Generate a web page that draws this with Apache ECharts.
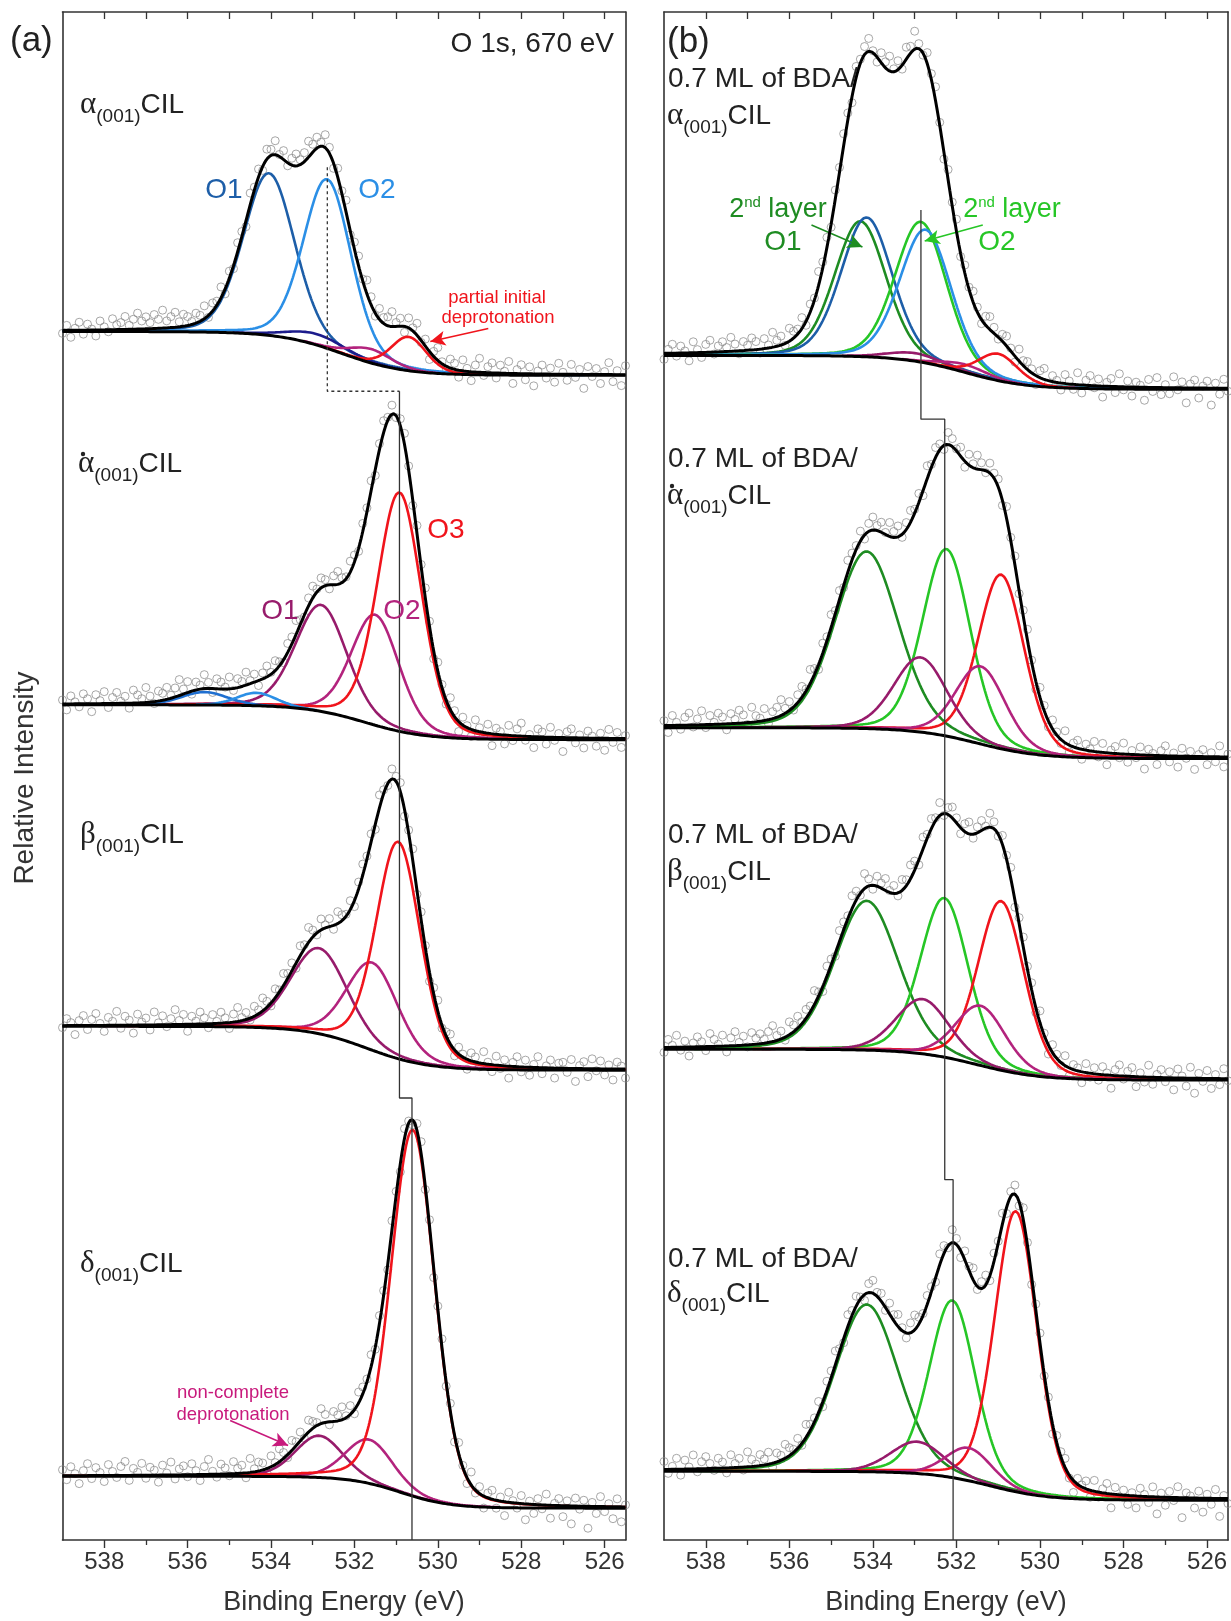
<!DOCTYPE html>
<html><head><meta charset="utf-8">
<script src="https://cdn.jsdelivr.net/npm/echarts@6/dist/echarts.min.js"></script>
<style>html,body{margin:0;padding:0;background:#fff}#chart{width:1231px;height:1621px}</style>
</head><body><div id="chart"></div>
<script>
// ---------------- axis / tick values ----------------
const xLow = 525.5, xHigh = 539;
const majorTicks = [538, 536, 534, 532, 530, 528, 526];
const minorTicks = [537, 535, 533, 531, 529, 527];
const topTicks = [538, 537, 536, 535, 534, 533, 532, 531, 530, 529, 528, 527, 526];
const dataStep = 0.1;   // spacing of the measured points (eV), first point at 539 eV

// Intensity unit: arbitrary (1 unit = 1 px of the stacked plot, 0 = plot bottom)
// background: [level at 539 eV, level at 525.5 eV, step centre (eV), step width (eV)]

// ---------------- panel (a) ----------------
const a1Bg = [1214, 1170, 532.3, 0.75];
const a1Centers = [534.05, 532.65, 532.9, 531.6, 530.7];
const a1Heights = [163, 170, 11, 14, 34];
const a1Fwhm = [1.45, 1.35, 1.6, 1.2, 1.0];
const a1Resid = [-3,5,-7,2,8,-4,6,1, -6,9,3,-2,11,5,7,13, 4,10,16,8,12,6,14,9, 18,7,11,15,5,12,9,3,
 10,6,13,-2,8,4,11,-5, 7,-3,9,5,-6,12,3,8, -4,10,6,14,2,9,-3,7, 12,5,9,16,8,11,4,13,
 6,-5,9,3,12,-4,7,10, 2,14,8,-3,11,6,9,15, 4,8,-6,10,3,12,-2,7, -8,5,13,2,-4,9,6,-7,
 11,3,-9,7,14,-3,6,10, -5,8,2,12,-10,4,9,-6, 7,-12,3,9,-4,6,-8,11, 2,-6,10,-3,5,-14,8,-2,
 6,-9,3,12,-7,4,-11,9];
const a2Bg = [839, 804, 531.75, 0.72];
const a2Centers = [532.8, 531.5, 530.92, 535.6, 534.35];
const a2Heights = [107, 111, 240, 13, 13];
const a2Fwhm = [1.45, 1.35, 1.25, 1.3, 1.1];
const a2Resid = [4,-6,8,2,-3,10,5,-8, 9,3,12,-4,6,11,2,7, -5,13,8,4,15,6,-2,10, 7,12,3,9,16,5,11,-3,
 8,4,14,6,-4,10,7,2, 12,-2,9,5,13,3,8,-5, 6,11,2,10,4,-3,9,7, 14,5,-2,8,12,3,10,6,
 -4,9,13,5,2,11,7,-3, 8,4,10,-6,6,12,3,9, -2,7,11,4,-5,8,2,10, 5,-8,9,3,-4,12,6,-10,
 8,2,-7,11,4,-3,9,-12, 6,3,-9,10,-5,7,13,-4, 2,-11,8,5,-7,10,-3,4, -14,6,9,-5,3,-10,7,2,
 -8,5,-12,9,-4,6,-9,3];
const a3Bg = [516, 472, 531.7, 0.72];
const a3Centers = [532.85, 531.57, 530.95];
const a3Heights = [86, 88, 218];
const a3Fwhm = [1.6, 1.45, 1.25];
const a3Resid = [-2,7,3,-9,5,10,-4,6, 12,2,-6,8,4,14,-3,9, 5,-8,11,3,7,-5,13,2, 9,-2,6,15,4,10,-7,8,
 3,12,6,-4,9,2,11,5, -6,8,14,3,7,-2,10,4, 13,6,-3,9,2,12,5,8, -5,10,4,15,7,-2,11,3,
 8,-4,12,6,2,9,-6,7, 11,3,8,-5,13,4,-2,10, 5,9,-7,3,12,-4,8,2, -9,6,11,-3,4,10,-6,7,
 3,-10,8,5,-4,12,2,-7, 9,-3,6,-12,4,10,-5,7, -8,3,11,-6,2,8,-10,5, 6,-4,9,-13,3,7,-8,10,
 -2,8,-6,4,-11,7,3,-9];
const a4Bg = [64, 32, 530.9, 0.6];
const a4Centers = [532.85, 531.65, 530.6];
const a4Heights = [42, 44, 368];
const a4Fwhm = [1.35, 1.35, 1.24];
const a4Resid = [6,-4,9,2,-8,5,12,-3, 8,3,-6,11,4,-2,9,14, -5,7,3,12,-3,8,5,-7, 10,2,13,-4,6,9,-2,11,
 4,-6,8,15,3,-3,10,6, -2,12,5,8,-5,14,3,9, 7,-4,11,2,13,6,-3,10, 4,9,-2,12,7,3,15,8,
 -3,10,6,13,2,9,-4,11, 7,3,12,-2,8,5,-6,9, 4,-8,10,2,-5,7,12,-3, 6,-10,3,9,-4,8,-7,11,
 2,-6,13,-3,7,-12,5,9, -8,4,-14,10,2,-5,8,-16, 3,-9,6,-4,11,-13,2,7, -11,5,-18,8,-3,6,-22,4,
 -7,10,-5,3,-12,8,-15,2];

// ---------------- panel (b): 0.7 ML of BDA on ... ----------------
const b1Bg = [1190, 1156, 531.8, 0.75];
const b1Centers = [534.3, 534.15, 532.85, 532.74, 533.0, 531.8, 531.0];
const b1Heights = [136, 140, 141, 134, 8, 8, 27];
const b1Fwhm = [1.45, 1.45, 1.45, 1.45, 1.5, 1.3, 1.1];
const b1Resid = [-6,4,9,-3,7,2,-8,11, 3,-5,8,12,-2,6,10,4, 14,7,-3,9,5,12,8,-4, 10,3,15,6,9,-2,13,7,
 5,11,-4,8,2,14,6,10, -3,9,5,12,7,-6,11,4, 8,13,2,-5,10,6,15,3, 9,-4,12,7,18,5,-2,11,
 6,14,3,-7,10,4,12,-3, 8,2,11,5,-4,9,13,6, -2,7,10,3,-6,12,5,8, 4,-9,7,11,-3,6,2,-7,
 9,3,-5,12,-8,5,10,-2, 7,-11,4,8,-6,13,-3,6, -9,5,2,-13,8,-4,10,-7, 3,-6,11,-2,6,-15,4,8,
 -10,2,7,-17,5,-6,9,-3];
const b2Bg = [816, 785, 531.5, 0.75];
const b2Centers = [534.15, 532.24, 530.93, 532.86, 531.42];
const b2Heights = [178, 188, 175, 75, 78];
const b2Fwhm = [1.8, 1.35, 1.3, 1.5, 1.4];
const b2Resid = [5,-7,10,3,-4,8,12,-2, 6,14,-3,9,2,11,7,-6, 10,4,13,8,-2,15,6,3, 12,-4,7,10,16,5,9,-3,
 8,11,2,14,6,-5,10,4, 13,3,9,-2,12,7,4,10, -4,8,13,5,10,2,14,6, 11,-3,7,12,4,9,-5,13,
 3,10,6,-4,12,8,2,9, -6,11,4,14,7,-2,10,5, 8,-5,12,3,9,-3,6,11, 2,-8,10,5,-6,9,3,-4,
 12,-7,4,8,-10,6,2,10, -5,9,-12,3,7,-4,11,-8, 4,-3,8,-14,6,2,-9,5, 10,-6,3,-11,8,-2,5,-13,
 2,7,-8,4,-5,11,-10,3];
const b3Bg = [493, 462, 531.5, 0.75];
const b3Centers = [534.15, 532.29, 530.93, 532.81, 531.42];
const b3Heights = [150, 160, 170, 55, 60];
const b3Fwhm = [1.8, 1.35, 1.3, 1.5, 1.4];
const b3Resid = [-5,8,2,12,-3,6,-9,4, 10,5,-4,13,7,2,11,-6, 8,14,3,9,-2,12,6,10, 4,11,16,5,8,-3,13,7,
 12,2,9,6,14,4,-5,10, 6,-3,11,8,3,13,9,-2, 15,7,-4,10,5,12,2,8, -3,11,6,14,9,-5,12,4,
 10,3,13,-2,7,11,5,-6, 8,12,-4,6,10,2,14,7, -2,9,4,11,-7,6,10,3, 7,-5,12,2,-9,8,4,-3,
 10,-8,5,3,-11,9,-4,6, -6,8,2,-13,6,11,-3,5, 9,-10,4,-5,12,-7,3,8, -4,6,-12,9,2,-8,11,-15,
 5,-3,8,-10,4,-6,10,-2];
const b4Bg = [69, 40, 531.2, 0.7];
const b4Centers = [534.15, 532.1, 530.58, 532.94, 531.7];
const b4Heights = [168, 178, 282, 32, 33];
const b4Fwhm = [1.8, 1.3, 1.2, 1.5, 1.3];
const b4Resid = [8,-4,3,11,-6,9,2,14, -3,7,12,5,-2,10,6,-5, 13,4,9,-3,15,7,2,11, 6,12,-4,9,5,14,8,3,
 10,-2,13,6,4,11,-5,9, 7,14,3,-4,12,5,10,2, -6,9,13,4,8,-3,11,6, 12,3,-5,10,15,7,2,9,
 5,-4,11,8,-2,13,6,-7, 9,4,12,-3,7,10,-5,8, 2,11,-6,5,9,-4,12,3, -8,6,10,-2,4,-10,7,5,
 9,-3,-12,6,2,8,-7,11, -5,4,10,-14,7,-2,5,-9, 3,-12,8,2,-6,10,-17,4, -8,6,-3,11,-20,5,2,-10,
 7,-14,4,-6,9,-18,3,-5];

// ---------------- reference lines and arrows (eV, intensity) ----------------
const aRefDotted = [[532.65, 1379], [532.65, 1154], [530.92, 1154]];
const aRefSolid = [[530.92, 1154], [530.92, 444], [530.62, 444], [530.62, 0]];
const bRefSolid = [[532.85, 1336], [532.85, 1126], [532.28, 1126], [532.28, 362], [532.08, 362], [532.08, 0]];
const arrowPartial = [[528.79, 1217], [530.18, 1204]];
const arrowNonComplete = [[534.98, 120], [533.59, 95]];
const arrowLayerO1 = [[535.47, 1321], [534.25, 1299]];
const arrowLayerO2 = [[531.37, 1321], [532.76, 1305]];

// ---------------- styles ----------------
const SANS = '"Liberation Sans", Arial, Helvetica, sans-serif';
const SERIF = '"Liberation Serif", "DejaVu Serif", "Times New Roman", serif';
const TXT = '#222';
const cBlueDark = '#1d5ea8', cBlue = '#1f6fd0', cBlueLight = '#2b8fe6', cNavy = '#1c1c8c';
const cPurple = '#971b6b', cMagenta = '#b3237d', cRed = '#f0141c';
const cGreenDark = '#1e8c22', cGreenLight = '#26c626';
const a1Colors = [cBlueDark, cBlueLight, cNavy, cMagenta, cRed];
const a2Colors = [cPurple, cMagenta, cRed, cBlue, cBlueLight];
const a3Colors = [cPurple, cMagenta, cRed];
const a4Colors = [cPurple, cMagenta, cRed];
const b1Colors = [cGreenDark, cBlueDark, cGreenLight, cBlueLight, cPurple, cMagenta, cRed];
const bColors = [cGreenDark, cGreenLight, cRed, cPurple, cMagenta];

// ---------------- model functions ----------------
const ETA = 0.2; // Lorentzian fraction of the pseudo-Voigt line shape
function peakVal(E, c, h, w) {
  const t = (E - c) / w;
  return h * ((1 - ETA) * Math.exp(-4 * Math.LN2 * t * t) + ETA / (1 + 4 * t * t));
}
function bgVal(E, bg) {
  const f = 1 / (1 + Math.exp(-(E - bg[2]) / bg[3]));
  return bg[1] + (bg[0] - bg[1]) * f;
}
const fineE = [];
for (let i = 0; i <= 675; i++) fineE.push(+(xHigh - i * 0.02).toFixed(3));

function spectrumSeries(axisIdx, bg, centers, heights, fwhm, colors, resid) {
  const out = [];
  const total = E => bgVal(E, bg) + centers.reduce((s, c, k) => s + peakVal(E, c, heights[k], fwhm[k]), 0);
  const base = { xAxisIndex: axisIdx.x, yAxisIndex: axisIdx.y, silent: true, animation: false };
  out.push(Object.assign({
    type: 'scatter', symbol: 'circle', symbolSize: 8, z: 1,
    itemStyle: { color: 'rgba(255,255,255,0)', borderColor: '#858585', borderWidth: 0.9 },
    data: resid.map((r, i) => { const E = +(xHigh - i * dataStep).toFixed(2); return [E, total(E) + r]; })
  }, base));
  centers.forEach((c, k) => {
    const pts = fineE.filter(E => peakVal(E, c, heights[k], fwhm[k]) > 0.4)
      .map(E => [E, bgVal(E, bg) + peakVal(E, c, heights[k], fwhm[k])]);
    out.push(Object.assign({
      type: 'line', showSymbol: false, symbol: 'none', z: 3, data: pts,
      lineStyle: { color: colors[k], width: 2.6 }
    }, base));
  });
  out.push(Object.assign({
    type: 'line', showSymbol: false, symbol: 'none', z: 4,
    data: fineE.map(E => [E, bgVal(E, bg)]), lineStyle: { color: '#000', width: 3 }
  }, base));
  out.push(Object.assign({
    type: 'line', showSymbol: false, symbol: 'none', z: 5,
    data: fineE.map(E => [E, total(E)]), lineStyle: { color: '#000', width: 3 }
  }, base));
  return out;
}
function refLine(axisIdx, pts, dashed) {
  return { type: 'line', xAxisIndex: axisIdx.x, yAxisIndex: axisIdx.y, silent: true, animation: false,
    showSymbol: false, symbol: 'none', z: 6, data: pts,
    lineStyle: { color: '#333', width: 1.3, type: dashed ? [3, 3] : 'solid' } };
}
function arrow(axisIdx, pts, color) {
  return { type: 'line', xAxisIndex: axisIdx.x, yAxisIndex: axisIdx.y, silent: true, animation: false, data: [],
    markLine: { silent: true, animation: false, symbol: ['none', 'arrow'], symbolSize: [11, 15],
      label: { show: false }, lineStyle: { color: color, width: 1.6, type: 'solid' },
      data: [[{ coord: pts[0] }, { coord: pts[1] }]] } };
}

// ---------------- axes ----------------
const gridA = { left: 62.5, top: 12, width: 563, height: 1535 };
const gridB = { left: 664, top: 12, width: 564, height: 1535 };
const frameLine = { show: true, lineStyle: { color: '#333', width: 1.6 } };
function xAxes(gridIndex) {
  const common = { type: 'value', gridIndex, min: xLow, max: xHigh, inverse: true, splitLine: { show: false } };
  return [
    Object.assign({}, common, {
      position: 'bottom', axisLine: frameLine,
      axisTick: { show: true, customValues: majorTicks, length: 8, lineStyle: { color: '#333', width: 1.4 } },
      axisLabel: { customValues: majorTicks, fontSize: 24, color: '#333', fontFamily: SANS, margin: 10 },
      name: 'Binding Energy (eV)', nameLocation: 'middle', nameGap: 49,
      nameTextStyle: { fontSize: 27, color: '#333', fontFamily: SANS }
    }),
    Object.assign({}, common, {
      position: 'bottom', axisLine: { show: false },
      axisTick: { show: true, customValues: minorTicks, length: 5, lineStyle: { color: '#333', width: 1.3 } },
      axisLabel: { show: false }
    }),
    Object.assign({}, common, {
      position: 'top', axisLine: frameLine,
      axisTick: { show: true, inside: true, customValues: topTicks, length: 7, lineStyle: { color: '#333', width: 1.3 } },
      axisLabel: { show: false }
    })
  ];
}
function yAxes(gridIndex) {
  const common = { type: 'value', gridIndex, min: 0, max: 1535, axisLine: frameLine,
    axisTick: { show: false }, axisLabel: { show: false }, splitLine: { show: false } };
  return [Object.assign({ position: 'left' }, common), Object.assign({ position: 'right' }, common)];
}

const AX_A = { x: 0, y: 0 }, AX_B = { x: 3, y: 2 };
let series = [];
series = series.concat(spectrumSeries(AX_A, a1Bg, a1Centers, a1Heights, a1Fwhm, a1Colors, a1Resid));
series = series.concat(spectrumSeries(AX_A, a2Bg, a2Centers, a2Heights, a2Fwhm, a2Colors, a2Resid));
series = series.concat(spectrumSeries(AX_A, a3Bg, a3Centers, a3Heights, a3Fwhm, a3Colors, a3Resid));
series = series.concat(spectrumSeries(AX_A, a4Bg, a4Centers, a4Heights, a4Fwhm, a4Colors, a4Resid));
series = series.concat(spectrumSeries(AX_B, b1Bg, b1Centers, b1Heights, b1Fwhm, b1Colors, b1Resid));
series = series.concat(spectrumSeries(AX_B, b2Bg, b2Centers, b2Heights, b2Fwhm, bColors, b2Resid));
series = series.concat(spectrumSeries(AX_B, b3Bg, b3Centers, b3Heights, b3Fwhm, bColors, b3Resid));
series = series.concat(spectrumSeries(AX_B, b4Bg, b4Centers, b4Heights, b4Fwhm, bColors, b4Resid));
series.push(refLine(AX_A, aRefDotted, true));
series.push(refLine(AX_A, aRefSolid, false));
series.push(refLine(AX_B, bRefSolid, false));
series.push(arrow(AX_A, arrowPartial, cRed));
series.push(arrow(AX_A, arrowNonComplete, '#c81a7c'));
series.push(arrow(AX_B, arrowLayerO1, cGreenDark));
series.push(arrow(AX_B, arrowLayerO2, cGreenLight));

// ---------------- text labels ----------------
function txt(x, y, text, size, color, align) {
  return { type: 'text', x, y, silent: true, z: 100,
    style: { text, fontSize: size, fontFamily: SANS, fill: color || TXT, align: align || 'left', verticalAlign: 'middle' } };
}
function phase(x, y, greek, dotted) {
  const t = { type: 'text', x, y, silent: true, z: 100,
    style: { text: '{g|' + greek + '}{s|(001)}{t|CIL}', align: 'left', verticalAlign: 'middle', fill: TXT,
      rich: { g: { fontFamily: SERIF, fontSize: 31, fill: TXT },
              s: { fontFamily: SANS, fontSize: 19, fill: TXT, padding: [23, 0, 0, 0] },
              t: { fontFamily: SANS, fontSize: 28, fill: TXT } } } };
  if (!dotted) return [t];
  return [t, { type: 'circle', silent: true, z: 100, shape: { cx: x + 5, cy: y - 10, r: 2.2 }, style: { fill: TXT } }];
}
function layer(x, y, color) {
  return { type: 'text', x, y, silent: true, z: 100,
    style: { text: '{n|2}{u|nd}{n| layer}', align: 'center', verticalAlign: 'middle', fill: color,
      rich: { n: { fontFamily: SANS, fontSize: 27, fill: color },
              u: { fontFamily: SANS, fontSize: 15, fill: color, padding: [0, 0, 14, 0] } } } };
}
const graphics = [].concat(
  [txt(10, 41, '(a)', 35), txt(614, 44, 'O 1s, 670 eV', 28, TXT, 'right'), txt(667, 42, '(b)', 35),
   { type: 'text', x: 25, y: 778, rotation: Math.PI / 2, silent: true,
     style: { text: 'Relative Intensity', fontSize: 28, fontFamily: SANS, fill: '#333', align: 'center', verticalAlign: 'middle' } }],
  phase(80, 105, 'α'), phase(78, 464, 'α', true), phase(80, 835, 'β'), phase(80, 1264, 'δ'),
  [txt(224, 190, 'O1', 28, cBlueDark, 'center'), txt(377, 190, 'O2', 28, cBlueLight, 'center'),
   txt(497, 298, 'partial initial', 18.5, cRed, 'center'), txt(498, 318, 'deprotonation', 18.5, cRed, 'center'),
   txt(280, 611, 'O1', 28, cPurple, 'center'), txt(402, 611, 'O2', 28, cMagenta, 'center'), txt(446, 530, 'O3', 28, cRed, 'center'),
   txt(233, 1393, 'non-complete', 18.5, '#c81a7c', 'center'), txt(233, 1415, 'deprotonation', 18.5, '#c81a7c', 'center'),
   txt(668, 79, '0.7 ML of BDA/', 28), txt(668, 459, '0.7 ML of BDA/', 28),
   txt(668, 835, '0.7 ML of BDA/', 28), txt(668, 1259, '0.7 ML of BDA/', 28)],
  phase(667, 116, 'α'), phase(667, 496, 'α', true), phase(667, 872, 'β'), phase(667, 1294, 'δ'),
  [layer(778, 210, cGreenDark), txt(783, 242, 'O1', 28, cGreenDark, 'center'),
   layer(1012, 210, cGreenLight), txt(997, 242, 'O2', 28, cGreenLight, 'center')]
);

const chart = echarts.init(document.getElementById('chart'));
chart.setOption({
  animation: false,
  backgroundColor: '#fff',
  grid: [gridA, gridB],
  xAxis: xAxes(0).concat(xAxes(1)),
  yAxis: yAxes(0).concat(yAxes(1)),
  series: series,
  graphic: graphics
});
</script></body></html>
